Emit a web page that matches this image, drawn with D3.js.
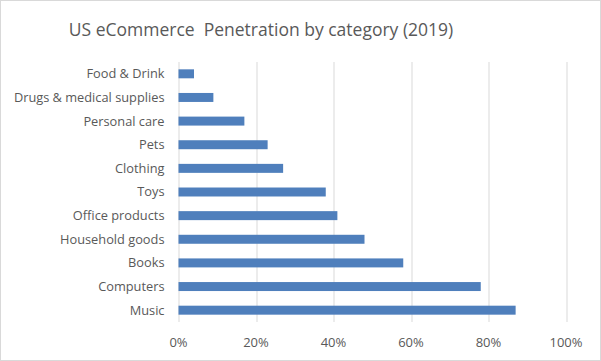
<!DOCTYPE html>
<html>
<head>
<meta charset="utf-8">
<script src="https://d3js.org/d3.v7.min.js"></script>
<style>
  body { margin: 0; background: #fff; }
  text { font-family: "Open Sans", sans-serif; fill: #595959; }
</style>
</head>
<body>
<script>
var categories = ["Food & Drink", "Drugs & medical supplies", "Personal care", "Pets", "Clothing",
                  "Toys", "Office products", "Household goods", "Books", "Computers", "Music"];
var penetration = [4, 9, 17, 23, 27, 38, 41, 48, 58, 78, 87];
var ticks = [0, 20, 40, 60, 80, 100];

var W = 601, H = 361;
var margin = {top: 62, right: 35, bottom: 39, left: 178.5};
var width = 566 - margin.left, height = 322 - margin.top;

var svg = d3.select("body").append("svg")
    .attr("width", W)
    .attr("height", H);

svg.append("rect")
    .attr("x", 0.5).attr("y", 0.5)
    .attr("width", W - 1).attr("height", H - 1)
    .attr("fill", "#fff")
    .attr("stroke", "#d9d9d9");

svg.append("text")
    .attr("x", 261)
    .attr("y", 36)
    .attr("text-anchor", "middle")
    .style("font-size", "17.5px")
    .style("white-space", "pre")
    .text("US eCommerce  Penetration by category (2019)");

var g = svg.append("g")
    .attr("transform", "translate(" + margin.left + "," + margin.top + ")");

var x = d3.scaleLinear().domain([0, 100]).range([0, width]);
var y = d3.scaleBand().domain(categories).range([0, height]).paddingInner(0.62).paddingOuter(0.31);

g.selectAll(".grid")
    .data(ticks)
    .enter().append("line")
    .attr("x1", d => Math.round(x(d)) + 0.5)
    .attr("x2", d => Math.round(x(d)) + 0.5)
    .attr("y1", 0)
    .attr("y2", height)
    .attr("stroke", "#d9d9d9");

g.selectAll(".bar")
    .data(categories)
    .enter().append("rect")
    .attr("x", 0)
    .attr("y", d => y(d))
    .attr("width", (d, i) => x(penetration[i]))
    .attr("height", y.bandwidth())
    .attr("fill", "#4f7fbc");

g.selectAll(".cat")
    .data(categories)
    .enter().append("text")
    .attr("x", -14)
    .attr("y", d => y(d) + y.bandwidth() / 2)
    .attr("dy", "0.35em")
    .attr("text-anchor", "end")
    .style("font-size", "12.8px")
    .text(d => d);

g.selectAll(".tick-label")
    .data(ticks)
    .enter().append("text")
    .attr("x", d => x(d))
    .attr("y", height + 20)
    .attr("dy", "0.35em")
    .attr("text-anchor", "middle")
    .style("font-size", "13px")
    .text(d => d + "%");
</script>
</body>
</html>
